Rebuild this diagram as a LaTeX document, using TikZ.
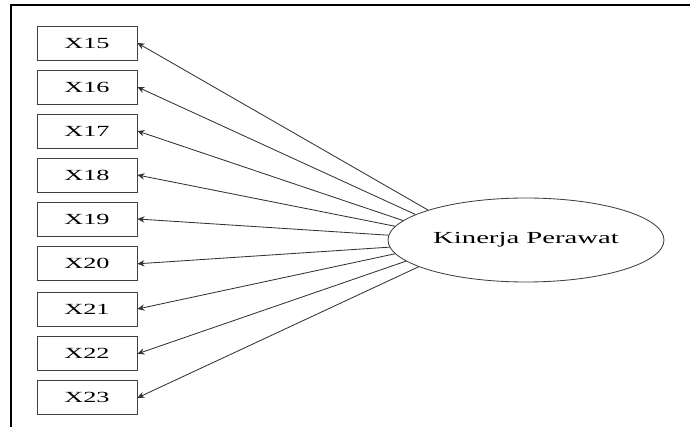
\documentclass[tikz,border=0pt]{standalone}
\usepackage{fontspec}
\setmainfont[FakeStretch=1.7]{Liberation Serif}
\usetikzlibrary{arrows.meta,shapes.geometric}

\begin{document}
\begin{tikzpicture}[
	indicator/.style={rectangle,draw=black!75,fill=white,line width=0.6pt,minimum width=2.5cm,minimum height=0.85cm,inner sep=0pt,font=\fontsize{11}{13}\selectfont},
	latent/.style={ellipse,draw=black!75,fill=white,line width=0.6pt,minimum width=6.9cm,minimum height=2.1cm,inner sep=0pt,font=\fontsize{12}{14}\selectfont},
	load/.style={draw=black!80,line width=0.6pt,-{Stealth[length=5pt,width=4.5pt]}}
]

	\useasboundingbox (0,0) rectangle (17.25,10.675);

	\draw[line width=1.2pt] (0.275,0) -- (0.275,10.55) -- (17.25,10.55);

	\node[indicator] at (2.175,9.6) (x15) {X15};
	\node[indicator] at (2.175,8.5) (x16) {X16};
	\node[indicator] at (2.175,7.4) (x17) {X17};
	\node[indicator] at (2.175,6.3) (x18) {X18};
	\node[indicator] at (2.175,5.2) (x19) {X19};
	\node[indicator] at (2.175,4.08) (x20) {X20};
	\node[indicator] at (2.175,2.95) (x21) {X21};
	\node[indicator] at (2.175,1.83) (x22) {X22};
	\node[indicator] at (2.175,0.73) (x23) {X23};

	\node[latent] at (13.15,4.675) (kp) {Kinerja Perawat};

	\draw[load] (kp.163) -- (x15.east);
	\draw[load] (kp.167) -- (x16.east);
	\draw[load] (kp.171) -- (x17.east);
	\draw[load] (kp.174.5) -- (x18.east);
	\draw[load] (kp.178) -- (x19.east);
	\draw[load] (kp.183) -- (x20.east);
	\draw[load] (kp.186.5) -- (x21.east);
	\draw[load] (kp.190) -- (x22.east);
	\draw[load] (kp.194) -- (x23.east);

\end{tikzpicture}
\end{document}
